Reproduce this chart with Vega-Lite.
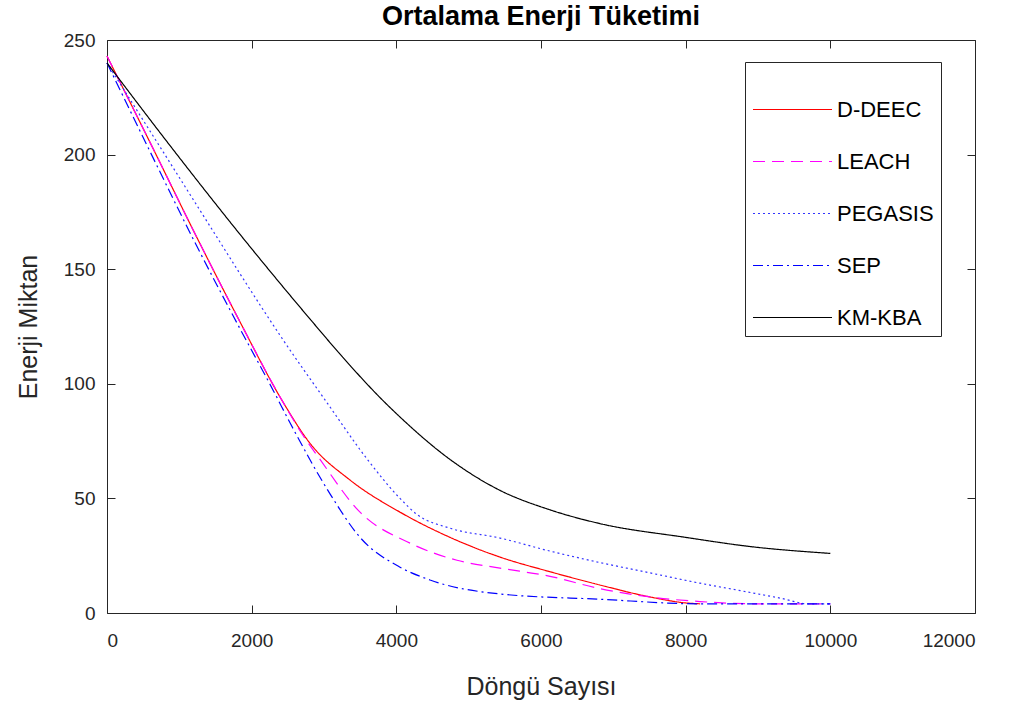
{
  "$schema": "https://vega.github.io/schema/vega-lite/v6.json",
  "width": 868,
  "height": 573,
  "autosize": {"type": "none"},
  "padding": {"left": 107, "top": 40, "right": 46, "bottom": 98},
  "background": "white",
  "title": {"text": "Ortalama Enerji Tüketimi", "font": "Liberation Sans", "fontSize": 27, "fontWeight": "bold", "color": "#000000", "offset": 0, "anchor": "middle"},
  "config": {
    "view": {"stroke": "#262626", "strokeWidth": 1},
    "font": "Liberation Sans",
    "axis": {"grid": false, "domainColor": "#262626", "tickColor": "#262626", "labelColor": "#262626", "titleColor": "#262626", "labelFont": "Liberation Sans", "titleFont": "Liberation Sans", "labelFontSize": 19, "titleFontSize": 25, "titleFontWeight": "normal", "tickSize": -8, "format": "d"}
  },
  "data": {"values": [
    {"round": 0, "energy": 243, "protocol": "D-DEEC"},
    {"round": 600, "energy": 205, "protocol": "D-DEEC"},
    {"round": 1240, "energy": 164, "protocol": "D-DEEC"},
    {"round": 1839, "energy": 127, "protocol": "D-DEEC"},
    {"round": 2415, "energy": 93, "protocol": "D-DEEC"},
    {"round": 2807, "energy": 74, "protocol": "D-DEEC"},
    {"round": 3360, "energy": 58, "protocol": "D-DEEC"},
    {"round": 4051, "energy": 44, "protocol": "D-DEEC"},
    {"round": 4742, "energy": 33, "protocol": "D-DEEC"},
    {"round": 5433, "energy": 24.4, "protocol": "D-DEEC"},
    {"round": 6125, "energy": 18, "protocol": "D-DEEC"},
    {"round": 6816, "energy": 12.2, "protocol": "D-DEEC"},
    {"round": 7507, "energy": 7, "protocol": "D-DEEC"},
    {"round": 8000, "energy": 4.4, "protocol": "D-DEEC"},
    {"round": 8200, "energy": 4, "protocol": "D-DEEC"},

    {"round": 0, "energy": 243, "protocol": "LEACH"},
    {"round": 600, "energy": 205, "protocol": "LEACH"},
    {"round": 1240, "energy": 164, "protocol": "LEACH"},
    {"round": 1839, "energy": 127, "protocol": "LEACH"},
    {"round": 2415, "energy": 93, "protocol": "LEACH"},
    {"round": 2700, "energy": 78, "protocol": "LEACH"},
    {"round": 2945, "energy": 67, "protocol": "LEACH"},
    {"round": 3498, "energy": 44, "protocol": "LEACH"},
    {"round": 4189, "energy": 30.5, "protocol": "LEACH"},
    {"round": 4839, "energy": 23, "protocol": "LEACH"},
    {"round": 5433, "energy": 19.6, "protocol": "LEACH"},
    {"round": 6125, "energy": 16, "protocol": "LEACH"},
    {"round": 6816, "energy": 10.6, "protocol": "LEACH"},
    {"round": 7507, "energy": 7, "protocol": "LEACH"},
    {"round": 8198, "energy": 5, "protocol": "LEACH"},
    {"round": 9000, "energy": 4, "protocol": "LEACH"},
    {"round": 10000, "energy": 4, "protocol": "LEACH"},

    {"round": 0, "energy": 240, "protocol": "PEGASIS"},
    {"round": 800, "energy": 200, "protocol": "PEGASIS"},
    {"round": 1539, "energy": 163, "protocol": "PEGASIS"},
    {"round": 1839, "energy": 148, "protocol": "PEGASIS"},
    {"round": 2438, "energy": 119, "protocol": "PEGASIS"},
    {"round": 3036, "energy": 92, "protocol": "PEGASIS"},
    {"round": 3600, "energy": 67, "protocol": "PEGASIS"},
    {"round": 4051, "energy": 50, "protocol": "PEGASIS"},
    {"round": 4286, "energy": 43, "protocol": "PEGASIS"},
    {"round": 4742, "energy": 37, "protocol": "PEGASIS"},
    {"round": 5433, "energy": 32.7, "protocol": "PEGASIS"},
    {"round": 6125, "energy": 27, "protocol": "PEGASIS"},
    {"round": 6816, "energy": 22, "protocol": "PEGASIS"},
    {"round": 7507, "energy": 17.5, "protocol": "PEGASIS"},
    {"round": 8198, "energy": 13, "protocol": "PEGASIS"},
    {"round": 8800, "energy": 9.5, "protocol": "PEGASIS"},
    {"round": 9304, "energy": 6.5, "protocol": "PEGASIS"},
    {"round": 9700, "energy": 4, "protocol": "PEGASIS"},
    {"round": 10000, "energy": 4, "protocol": "PEGASIS"},

    {"round": 0, "energy": 240, "protocol": "SEP"},
    {"round": 600, "energy": 201, "protocol": "SEP"},
    {"round": 1194, "energy": 163, "protocol": "SEP"},
    {"round": 1839, "energy": 124, "protocol": "SEP"},
    {"round": 2300, "energy": 97, "protocol": "SEP"},
    {"round": 2530, "energy": 83, "protocol": "SEP"},
    {"round": 3083, "energy": 52, "protocol": "SEP"},
    {"round": 3498, "energy": 33, "protocol": "SEP"},
    {"round": 4051, "energy": 20, "protocol": "SEP"},
    {"round": 4466, "energy": 14.4, "protocol": "SEP"},
    {"round": 5433, "energy": 8.3, "protocol": "SEP"},
    {"round": 6816, "energy": 6, "protocol": "SEP"},
    {"round": 8198, "energy": 4, "protocol": "SEP"},
    {"round": 10000, "energy": 4, "protocol": "SEP"},

    {"round": 0, "energy": 240, "protocol": "KM-KBA"},
    {"round": 894, "energy": 203, "protocol": "KM-KBA"},
    {"round": 1908, "energy": 162.5, "protocol": "KM-KBA"},
    {"round": 2760, "energy": 130, "protocol": "KM-KBA"},
    {"round": 3360, "energy": 108, "protocol": "KM-KBA"},
    {"round": 3774, "energy": 94, "protocol": "KM-KBA"},
    {"round": 4051, "energy": 85.5, "protocol": "KM-KBA"},
    {"round": 4742, "energy": 67, "protocol": "KM-KBA"},
    {"round": 5433, "energy": 53.5, "protocol": "KM-KBA"},
    {"round": 6125, "energy": 45, "protocol": "KM-KBA"},
    {"round": 6816, "energy": 39, "protocol": "KM-KBA"},
    {"round": 8000, "energy": 33, "protocol": "KM-KBA"},
    {"round": 8890, "energy": 29, "protocol": "KM-KBA"},
    {"round": 10000, "energy": 26, "protocol": "KM-KBA"}
  ]},
  "layer": [
    {
      "mark": {"type": "point", "opacity": 0},
      "encoding": {
        "x": {"field": "round", "type": "quantitative", "scale": {"domain": [0, 12000], "nice": false}, "axis": {"orient": "top", "labels": false, "title": null, "domain": false, "values": [0, 2000, 4000, 6000, 8000, 10000, 12000]}},
        "y": {"field": "energy", "type": "quantitative", "scale": {"domain": [0, 250], "nice": false}, "axis": {"orient": "right", "labels": false, "title": null, "domain": false, "values": [0, 50, 100, 150, 200, 250]}}
      }
    },
    {
      "mark": {"type": "line", "strokeWidth": 1.2, "interpolate": "monotone"},
      "encoding": {
        "x": {"field": "round", "type": "quantitative",
              "axis": {"orient": "bottom", "title": "Döngü Sayısı", "values": [0, 2000, 4000, 6000, 8000, 10000, 12000], "labelPadding": 26, "titlePadding": 24, "domain": false}},
        "y": {"field": "energy", "type": "quantitative",
              "axis": {"orient": "left", "title": "Enerji Miktan", "values": [0, 50, 100, 150, 200, 250], "labelPadding": 20, "titlePadding": 22, "domain": false}},
        "color": {"field": "protocol", "type": "nominal",
                  "scale": {"domain": ["D-DEEC", "LEACH", "PEGASIS", "SEP", "KM-KBA"], "range": ["#ff0000", "#ff00ff", "#3333ff", "#0000ff", "#000000"]},
                  "legend": {"title": null, "orient": "none", "legendX": 638, "legendY": 22, "padding": 7, "strokeColor": "#262626", "fillColor": "white", "symbolType": "stroke", "symbolSize": 6241, "symbolStrokeWidth": 1.2, "labelFontSize": 22, "labelFont": "Liberation Sans", "labelColor": "#000000", "rowPadding": 0, "labelOffset": 4,
                             "encoding": {"symbols": {"strokeDash": {"value": {"expr": "scale('strokeDash', datum.value)"}}}}}},
        "strokeDash": {"field": "protocol", "type": "nominal",
                  "scale": {"domain": ["KM-KBA", "D-DEEC", "LEACH", "PEGASIS", "SEP"], "range": [[1, 0], [1, 0], [12, 7], [2, 3], [10, 4, 2, 4]]},
                  "legend": null}
      }
    }
  ],
  "resolve": {"axis": {"x": "independent", "y": "independent"}}
}
